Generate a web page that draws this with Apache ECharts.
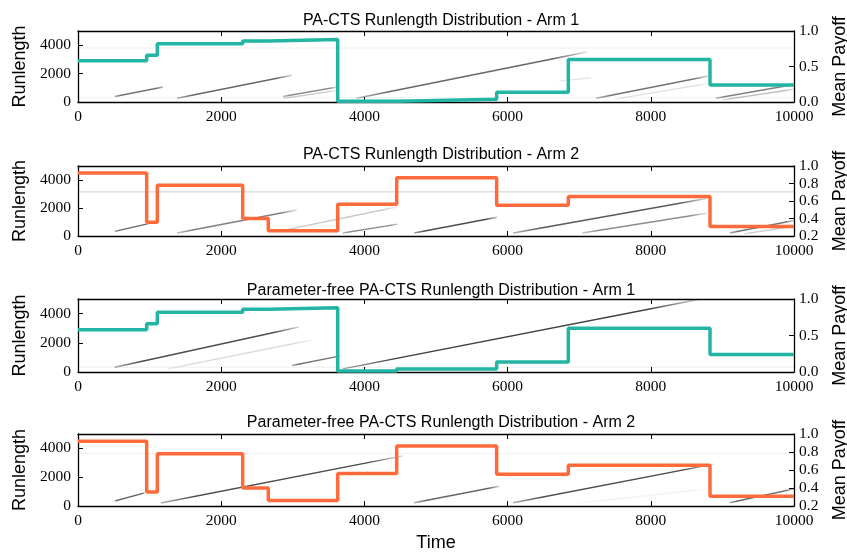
<!DOCTYPE html>
<html><head><meta charset="utf-8">
<script src="https://cdn.jsdelivr.net/npm/echarts@6/dist/echarts.min.js"></script>
<style>html,body{margin:0;padding:0;background:#fff;overflow:hidden;width:847px;height:553px}#c{position:absolute;left:0;top:0;width:847px;height:553px}</style>
</head><body><div id="c"></div>
<script>
// ---- data ----
const panelTitles = [
  'PA-CTS Runlength Distribution - Arm 1',
  'PA-CTS Runlength Distribution - Arm 2',
  'Parameter-free PA-CTS Runlength Distribution - Arm 1',
  'Parameter-free PA-CTS Runlength Distribution - Arm 2'
];
const timeTicks = [0, 2000, 4000, 6000, 8000, 10000];
const changeTimes = [0, 959, 1108, 2300, 2658, 3627, 4451, 5847, 6848, 8827, 10000];
const arm1Payoff = [0.58, 0.66, 0.82, 0.86, 0.88, 0.012, 0.04, 0.137, 0.60, 0.24];
const arm2Payoff = [0.92, 0.356, 0.78, 0.40, 0.26, 0.562, 0.866, 0.552, 0.652, 0.308];
// runlength traces: [tStart, rStart, tEnd, rEnd, darkness]
const runsP1 = [
  [514, 386, 1190, 1060, 0.55], [1383, 265, 2990, 1880, 0.6], [2862, 386, 3601, 1036, 0.45],
  [2862, 250, 3601, 800, 0.2], [3891, 265, 7106, 3519, 0.6], [6720, 1470, 7170, 1710, 0.1],
  [7235, 265, 8810, 1832, 0.55], [7500, 200, 8800, 1300, 0.12], [8907, 265, 10000, 1229, 0.5],
  [9000, 150, 10000, 900, 0.25]
];
const runsP2 = [
  [514, 329, 1000, 900, 0.6], [1383, 212, 3055, 1857, 0.5], [2797, 329, 4469, 2092, 0.22],
  [3698, 212, 4469, 846, 0.45], [4695, 212, 5852, 1340, 0.7], [6077, 212, 8778, 2680, 0.65],
  [7042, 212, 8778, 1622, 0.45], [9100, 212, 10000, 1105, 0.55], [9300, 150, 10000, 700, 0.2]
];
const runsP3 = [
  [514, 329, 3087, 3080, 0.7], [1254, 211, 3280, 2209, 0.15], [2990, 446, 3666, 1104, 0.55],
  [3698, 211, 8700, 5000, 0.75]
];
const runsP4 = [
  [514, 344, 932, 916, 0.6], [1158, 206, 4534, 3480, 0.7], [4695, 229, 5884, 1374, 0.6],
  [6077, 229, 8875, 2908, 0.7], [9100, 229, 10000, 1190, 0.6], [7000, 200, 8800, 1200, 0.05]
];
// faint horizontal bands: [runlength, darkness]
const bandsP1 = [[3800, 0.07], [330, 0.05]];
const bandsP2 = [[3150, 0.2]];
const bandsP3 = [[330, 0.07]];
const bandsP4 = [[3650, 0.06]];

// ---- layout ----
const gridTops = [31, 166, 299, 434];
const gridH = [71, 70, 73, 72];
const titleY = [18, 152, 288, 420];
const panels = [
  {runs: runsP1, bands: bandsP1, pay: arm1Payoff, color: '#22b5a3', rmin: 0, rint: 0.5},
  {runs: runsP2, bands: bandsP2, pay: arm2Payoff, color: '#ff6a3a', rmin: 0.2, rint: 0.2},
  {runs: runsP3, bands: bandsP3, pay: arm1Payoff, color: '#22b5a3', rmin: 0, rint: 0.5},
  {runs: runsP4, bands: bandsP4, pay: arm2Payoff, color: '#ff6a3a', rmin: 0.2, rint: 0.2}
];
const serif = 'Liberation Serif';
const sans = 'Liberation Sans';
const axisLine = {show: true, onZero: false, lineStyle: {color: '#000', width: 1.3}};
const tick = {show: true, inside: true, length: 5, lineStyle: {color: '#000', width: 1}};
const tickFont = {fontFamily: serif, fontSize: 15.5, color: '#000'};

const grid = [], xAxis = [], yAxis = [], series = [], title = [];
panels.forEach((p, i) => {
  grid.push({left: 78, right: 53, top: gridTops[i], height: gridH[i], containLabel: false, outerBoundsMode: 'none'});
  title.push({text: panelTitles[i], left: 436, top: titleY[i] - 10, textAlign: 'center',
    textStyle: {fontFamily: sans, fontSize: 16, fontWeight: 'normal', color: '#000'}});
  xAxis.push({type: 'value', gridIndex: i, position: 'bottom', min: 0, max: 10000, interval: 2000,
    axisLine, axisTick: tick, splitLine: {show: false},
    axisLabel: Object.assign({margin: 7, formatter: v => String(v)}, tickFont),
    name: i === 3 ? 'Time' : '', nameLocation: 'middle', nameGap: 28,
    nameTextStyle: {fontFamily: sans, fontSize: 18, color: '#000'}});
  xAxis.push({type: 'value', gridIndex: i, position: 'top', min: 0, max: 10000, interval: 2000,
    axisLine, axisTick: tick, splitLine: {show: false}, axisLabel: {show: false}});
  yAxis.push({type: 'value', gridIndex: i, position: 'left', min: 0, max: 5000, interval: 2000,
    axisLine, axisTick: tick, splitLine: {show: false},
    axisLabel: Object.assign({margin: 7, showMaxLabel: false, formatter: v => String(v)}, tickFont),
    name: 'Runlength', nameLocation: 'middle', nameGap: 39, nameRotate: 90,
    nameTextStyle: {fontFamily: sans, fontSize: 18, color: '#000'}});
  yAxis.push({type: 'value', gridIndex: i, position: 'right', min: p.rmin, max: 1.0, interval: p.rint,
    axisLine, axisTick: tick, splitLine: {show: false},
    axisLabel: Object.assign({margin: 5, formatter: v => v.toFixed(1)}, tickFont),
    name: 'Mean Payoff', nameLocation: 'middle', nameGap: 37, nameRotate: 90,
    nameTextStyle: {fontFamily: sans, fontSize: 18, color: '#000', verticalAlign: 'top'}});
  p.bands.forEach(b => {
    series.push({type: 'line', xAxisIndex: 2 * i, yAxisIndex: 2 * i, symbol: 'none', silent: true,
      z: 1, data: [[0, b[0]], [10000, b[0]]],
      lineStyle: {color: `rgba(0,0,0,${b[1]})`, width: 1}});
  });
  p.runs.forEach(s => {
    const a = s[4];
    series.push({type: 'line', xAxisIndex: 2 * i, yAxisIndex: 2 * i, symbol: 'none', silent: true,
      z: 2, data: [[s[0], s[1]], [s[2], s[3]]],
      lineStyle: {width: 1.4, color: {type: 'linear', x: 0, y: 0, x2: 1, y2: 0, colorStops: [
        {offset: 0, color: `rgba(0,0,0,${a * 0.4})`},
        {offset: 0.15, color: `rgba(0,0,0,${a})`},
        {offset: 0.85, color: `rgba(0,0,0,${a})`},
        {offset: 1, color: `rgba(0,0,0,${a * 0.15})`}]}}});
  });
  const stepData = changeTimes.map((t, k) => [t, p.pay[Math.min(k, p.pay.length - 1)]]);
  series.push({type: 'line', xAxisIndex: 2 * i, yAxisIndex: 2 * i + 1, step: 'end', symbol: 'none',
    z: 5, data: stepData, lineStyle: {color: p.color, width: 3.5}});
});

const chart = echarts.init(document.getElementById('c'), null, {renderer: 'canvas', width: 847, height: 553});
chart.setOption({animation: false, backgroundColor: '#fff', title, grid, xAxis, yAxis, series});
</script></body></html>
